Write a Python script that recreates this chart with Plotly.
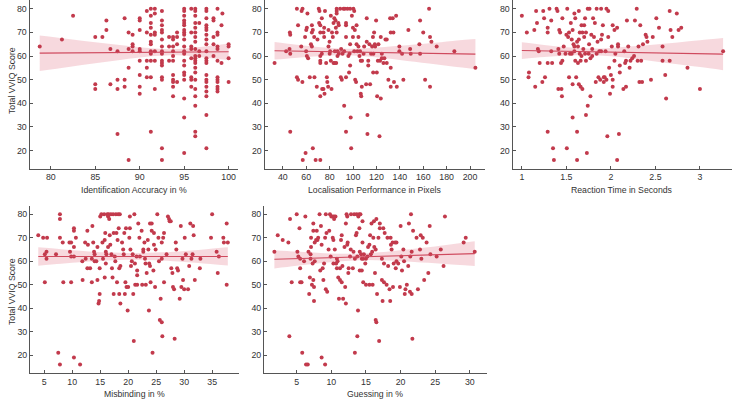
import numpy as np
import plotly.graph_objects as go

# ---------------- data ----------------
ident_x = [78.75, 81.25, 82.5,
           85, 85, 85, 85.8, 86.25, 86.25, 86.7, 86.7,
           87.5, 87.5, 87.5, 87.5, 88.3, 88.3, 88.3,
           88.75, 88.75, 88.75, 88.75, 89.2, 89.2, 89.2, 89.2,
           90, 90, 90, 90, 90, 90, 90, 90, 90,
           90.8, 90.8, 90.8, 90.8, 90.8,
           91.25, 91.25, 91.25, 91.25, 91.25, 91.25, 91.25, 91.25, 91.25, 91.25, 91.25, 91.25,
           91.7, 91.7, 91.7, 91.7, 91.7, 91.7, 91.7,
           92.5, 92.5, 92.5, 92.5, 92.5, 92.5, 92.5, 92.5, 92.5, 92.5, 92.5, 92.5, 92.5, 92.5, 92.5, 92.5,
           93.3, 93.3, 93.3,
           93.75, 93.75, 93.75, 93.75, 93.75, 93.75, 93.75, 93.75, 93.75, 93.75, 93.75,
           94.2, 94.2, 94.2, 94.2,
           95, 95, 95, 95, 95, 95, 95, 95, 95, 95, 95, 95, 95, 95, 95, 95, 95, 95, 95, 95, 95,
           95.8, 95.8, 95.8, 95.8, 95.8, 95.8, 95.8, 95.8,
           96.25, 96.25, 96.25, 96.25, 96.25, 96.25, 96.25, 96.25, 96.25, 96.25, 96.25, 96.25, 96.25, 96.25,
           96.25, 96.25, 96.25, 96.25, 96.25, 96.25, 96.25,
           96.7, 96.7, 96.7,
           97.5, 97.5, 97.5, 97.5, 97.5, 97.5, 97.5, 97.5, 97.5, 97.5, 97.5, 97.5, 97.5, 97.5, 97.5, 97.5,
           97.5, 97.5, 97.5, 97.5, 97.5,
           98.3, 98.3, 98.3, 98.3, 98.3,
           98.75, 98.75, 98.75, 98.75, 98.75, 98.75, 98.75, 98.75, 98.75, 98.75, 98.75, 98.75,
           99.2, 99.2, 99.3,
           100, 100, 100, 100]
ident_y = [64, 67, 77,
           68, 48, 46, 68, 75, 71, 63, 48,
           62, 50, 46, 27, 76, 50, 47,
           70, 63, 55, 16, 69, 65, 64, 62,
           76, 75, 71, 63, 62, 58, 52, 47, 44,
           79, 70, 58, 55, 51,
           80, 77, 74, 72, 69, 66, 65, 62, 61, 58, 51, 28,
           80, 78, 70, 69, 62, 58, 46,
           79, 75, 73, 71, 70, 67, 64, 62, 61, 58, 57, 56, 51, 50, 21, 16,
           68, 64, 58,
           68, 67, 64, 62, 60, 58, 52, 50, 49, 47, 43,
           70, 68, 65, 49,
           80, 79, 77, 75, 74, 73, 71, 70, 69, 67, 64, 62, 61, 58, 56, 53, 52, 50, 42, 34, 19,
           80, 70, 64, 63, 59, 51, 50, 47,
           80, 79, 77, 74, 72, 70, 68, 66, 63, 60, 59, 58, 57, 55,
           53, 50, 46, 43, 39, 28, 26,
           74, 62, 60,
           80, 79, 76, 73, 72, 71, 69, 67, 65, 62, 59, 58, 57, 52, 50, 49,
           47, 45, 43, 35, 21,
           76, 75, 68, 65, 60,
           80, 70, 69, 64, 63, 58, 51, 50, 49, 47, 46, 45,
           73, 57, 78,
           65, 64, 59, 49]

local_x = [32.9, 42.8, 45.7, 46.3, 46, 46.3, 46.3, 52, 53, 52, 53, 56, 56.8, 55.7, 56.7, 57, 59.4,
           59, 60, 60.5, 61, 59.9, 60.5, 61.6, 63, 65.6, 64.8, 64.8, 64, 64.8, 65.6, 66.8, 67, 68, 69,
           69.6, 70.7, 71.3, 71, 72, 72, 72, 72, 72, 72, 72, 73.3, 73.3, 73.6, 74.7, 74.7, 75.3, 75.3,
           75.6, 76, 77, 77.6, 78, 78.7, 79, 79, 79.9, 80, 80.4, 81, 81, 81.6, 82, 82.7, 83.3, 83.3,
           84, 84.4, 84.4, 85, 85.3, 85.6, 86, 86, 86, 86, 86.7, 86.7, 87.4, 87.8, 87.8, 89, 89.5, 89.8,
           90.4, 91, 91.8, 92.4, 92.4, 93, 94, 94, 94, 94, 94, 95.2, 96, 96.6, 97, 97.5, 97.5, 97.5,
           98, 98.4, 99, 99.9, 99.9, 100.3, 101, 101, 101.5, 101.8, 102.6, 103, 103, 103.7, 104.6,
           104.6, 105.5, 106, 106.6, 107.5, 106.6, 107, 107.7, 109, 109.5, 111.2, 111.7, 111.7, 112.3,
           112.3, 113, 113, 114, 114.6, 115.4, 116.3, 117, 117.2, 117.4, 118, 118.6, 118.9, 119.7,
           120.3, 120.6, 121.2, 121.7, 122.6, 123.1, 123.7, 123.7, 124.6, 124.6, 126, 126.8, 127.7,
           128.8, 128.8, 130.2, 131.7, 132.2, 132.2, 132.2, 133.9, 134.5, 135, 136.8, 137.4, 139.6,
           139.6, 141.9, 143, 147.3, 148.8, 149.3, 156.7, 157.3, 157.3, 160, 161.6, 165, 165.8, 165.8,
           167, 171.5, 186.6, 204.6]
local_y = [57, 62, 63, 61, 70, 69, 28, 80, 73, 51, 50, 79, 80, 64, 49, 16, 19,
           68, 71, 72, 78, 62, 60, 59, 51, 21, 73, 70, 65, 64, 71, 68, 51, 16, 47,
           67, 80, 79, 74, 73, 70, 60, 58, 57, 43, 16, 76, 61, 46, 46, 70, 68, 72,
           44, 79, 57, 51, 49, 47, 71, 64, 66, 61, 62, 77, 58, 46, 70, 68, 57, 74,
           76, 62, 57, 75, 72, 57, 80, 79, 78, 70, 62, 60, 74, 61, 73, 80, 51, 63,
           50, 61, 80, 62, 39, 80, 74, 73, 68, 51, 28, 80, 60, 53, 61, 80, 65, 56,
           34, 21, 77, 72, 68, 80, 79, 62, 71, 50, 49, 73, 65, 62, 68,
           64, 60, 62, 58, 47, 44, 43, 58, 61, 64, 48, 76, 66, 35,
           27, 58, 56, 65, 48, 61, 64, 68, 53, 61, 70, 65, 64, 75,
           53, 43, 58, 65, 26, 58, 68, 42, 61, 59, 57, 59, 67,
           67, 57, 50, 76, 70, 55, 47, 76, 70, 49, 77, 47, 64,
           62, 61, 50, 71, 63, 61, 65, 75, 61, 70, 50, 80, 68, 47,
           66, 64, 62, 55]

react_x = [1.0, 1.056, 1.08, 1.075, 1.14, 1.15, 1.16, 1.17, 1.18, 1.19, 1.2, 1.23, 1.24, 1.25, 1.26,
           1.29, 1.29, 1.29, 1.29, 1.31, 1.33, 1.33, 1.34, 1.35, 1.36, 1.39, 1.4, 1.41, 1.41, 1.42,
           1.42, 1.43, 1.44, 1.445, 1.45, 1.455, 1.455, 1.47, 1.49, 1.5, 1.505, 1.51, 1.52, 1.53, 1.53,
           1.54, 1.55, 1.56, 1.56, 1.57, 1.57, 1.57, 1.58, 1.59, 1.59, 1.59, 1.6, 1.6, 1.61, 1.62,
           1.62, 1.62, 1.63, 1.63, 1.64, 1.64, 1.64, 1.65, 1.65, 1.66, 1.66, 1.67, 1.67, 1.68, 1.68,
           1.69, 1.7, 1.7, 1.71, 1.71, 1.72, 1.72, 1.72, 1.73, 1.74, 1.74, 1.75, 1.755, 1.76, 1.77,
           1.77, 1.78, 1.79, 1.79, 1.8, 1.81, 1.82, 1.83, 1.84, 1.84, 1.85, 1.86, 1.87, 1.88, 1.89,
           1.89, 1.89, 1.9, 1.91, 1.92, 1.92, 1.93, 1.94, 1.95, 1.95, 1.96, 1.97, 1.97, 1.98, 1.99,
           2.0, 2.01, 2.02, 2.02, 2.02, 2.04, 2.04, 2.05, 2.07, 2.07, 2.08, 2.08, 2.09, 2.1, 2.1,
           2.14, 2.15, 2.16, 2.17, 2.17, 2.18, 2.195, 2.21, 2.22, 2.24, 2.26, 2.27, 2.29, 2.3, 2.31,
           2.32, 2.33, 2.34, 2.35, 2.36, 2.39, 2.4, 2.41, 2.45, 2.47, 2.51, 2.54, 2.58, 2.58, 2.61,
           2.62, 2.66, 2.66, 2.67, 2.69, 2.74, 2.76, 2.79, 2.86, 3.0, 3.26]
react_y = [77, 70, 53, 51, 71, 47, 79, 74, 63, 62, 57, 49, 79, 76, 51,
           72, 70, 57, 28, 80, 75, 62, 57, 21, 16, 80, 79, 63, 46, 71,
           61, 70, 57, 46, 43, 58, 76, 64, 61, 69, 21, 80, 68, 70, 51,
           61, 74, 61, 67, 48, 34, 71, 65, 78, 64, 62, 76, 58, 51, 66,
           28, 16, 64, 57, 48, 79, 67, 70, 61, 58, 47, 73, 60, 70, 46,
           63, 73, 68, 61, 76, 70, 58, 35, 19, 80, 39, 61, 65, 80, 59,
           43, 69, 63, 60, 76, 68, 74, 49, 61, 80, 66, 51, 62, 50, 67,
           62, 80, 69, 73, 49, 51, 51, 62, 80, 50, 26, 79, 68, 55, 44,
           52, 64, 73, 47, 50, 71, 58, 61, 16, 72, 64, 65, 27, 56, 53,
           46, 62, 57, 47, 58, 75, 64, 55, 58, 59, 60, 75, 80, 58, 64,
           49, 73, 58, 49, 65, 69, 68, 66, 50, 68, 76, 72, 64, 58, 52,
           42, 79, 58, 71, 68, 78, 71, 72, 55, 46, 62]

misb_x = [3.93, 4.8, 5.5, 5.1, 5.4, 5.4, 5.1, 7.1, 7.5, 7.8, 7.8, 7.8, 7.8, 8.3, 8.4,
          9.5, 9.8, 9.6, 9.8, 9.8, 10.3, 10.3, 10.3, 10.3, 10.3, 10.65, 11.4, 11.8, 11.85,
          12.3, 12.4, 12.7, 12.8, 12.7, 13.2, 13.5, 13.5, 13.6, 13.75, 13.9, 14, 14, 14.3, 14.5,
          14.5, 14.7, 14.8, 14.9, 14.9, 15, 15.2, 15.4, 15.5, 15.7, 15.8, 15.8, 15.9, 16, 16, 16.1,
          16.25, 16.4, 16.4, 16.5, 16.6, 16.7, 16.8, 16.9, 17, 17.1, 17.2, 17.3, 17.4, 17.4, 17.6,
          17.7, 17.8, 17.9, 18, 18.1, 18.2, 18.3, 18.4, 18.4, 18.5, 18.6, 18.6, 18.9, 19.1, 19.2,
          19.3, 19.4, 19.5, 19.6, 19.7, 19.9, 20, 20.2, 20.3, 20.3, 20.4, 20.5, 20.65, 20.8, 20.9,
          21, 21.1, 21.2, 21.25, 21.5, 21.6, 21.6, 21.6, 21.8, 22, 22.1, 22.4, 22.5, 22.7, 22.7,
          22.9, 23, 23.1, 23.15, 23.3, 23.5, 23.6, 23.7, 23.75, 23.9, 23.9, 24, 24.2, 24.2, 24.35,
          24.5, 24.6, 24.6, 24.8, 24.9, 25.2, 25.4, 25.5, 25.65, 25.8, 26, 26, 26, 26.1, 26.25,
          26.4, 26.4, 26.85, 27.1, 27.3, 27.4, 27.6, 27.7, 27.9, 28, 28.2, 28.3, 28.5, 28.6, 28.75,
          28.9, 29.2, 29.4, 29.5, 29.7, 29.8, 30, 30.1, 30.3, 30.7, 30.9, 31.1, 31.3, 31.5, 31.6,
          31.7, 31.9, 32.8, 32.9, 35, 34.8, 35.8, 36, 36.2, 37, 37.1, 37.6, 37.6, 37.8]
misb_y = [71, 70, 70, 63, 61, 64, 51, 63, 21, 80, 78, 16, 70, 68, 51,
          68, 68, 64, 62, 51, 74, 73, 66, 62, 19, 70, 16, 60, 52,
          68, 61, 73, 67, 57, 57, 61, 51, 75, 68, 64, 63, 60, 60, 52,
          66, 42, 43, 46, 57, 79, 80, 68, 61, 80, 69, 53, 72, 64, 59, 63,
          80, 79, 66, 80, 78, 71, 67, 80, 63, 57, 53, 80, 46, 72, 62,
          60, 80, 72, 51, 69, 80, 74, 57, 46, 80, 42, 58, 68, 65, 63,
          72, 46, 51, 74, 49, 39, 49, 70, 79, 74, 65, 58, 60, 63, 46,
          26, 80, 59, 50, 62, 56, 54, 50, 76, 70, 62, 73, 50, 65, 64,
          68, 61, 59, 50, 55, 69, 65, 39, 59, 76, 58, 51, 76, 73, 21,
          56, 72, 67, 49, 65, 80, 70, 60, 35, 44, 34, 61, 68, 28, 70,
          51, 72, 63, 79, 78, 77, 77, 57, 55, 49, 48, 27, 68, 65, 57,
          56, 44, 75, 49, 61, 52, 48, 70, 63, 48, 58, 76, 61, 63, 75,
          71, 52, 57, 61, 80, 70, 64, 55, 62, 70, 68, 76, 50, 68]

guess_x = [1.78, 2.26, 2.98, 3.8, 3.94, 4.04, 4.28, 5, 5.1, 5.24, 5.4, 5.5, 5.5, 5.5, 5.7, 5.8,
           6.06, 6.25, 6.35, 6.6, 6.7, 6.8, 6.9, 7, 7, 7.07, 7.07, 7.2, 7.3, 7.4, 7.4, 7.4, 7.5,
           7.5, 7.6, 7.6, 7.8, 7.9, 8, 8.1, 8.3, 8.4, 8.5, 8.6, 8.6, 8.75, 8.85, 8.95, 9.1, 9.1,
           9.2, 9.2, 9.3, 9.4, 9.6, 9.7, 9.8, 9.9, 10, 10.2, 10.2, 10.3, 10.3, 10.4, 10.4, 10.5,
           10.6, 10.7, 10.8, 10.8, 10.9, 11, 11.1, 11.25, 11.25, 11.4, 11.5, 11.5, 11.6, 11.7,
           11.9, 12, 12.1, 12.1, 12.2, 12.3, 12.3, 12.36, 12.45, 12.5, 12.7, 12.8, 12.84, 13.1,
           13.2, 13.3, 13.4, 13.4, 13.55, 13.65, 13.65, 13.75, 13.75, 13.85, 13.9, 14, 14.05, 14.1,
           14.1, 14.2, 14.3, 14.4, 14.4, 14.5, 14.5, 14.6, 14.6, 14.7, 14.9, 15, 15, 15.2, 15.3,
           15.5, 15.5, 15.6, 15.7, 15.8, 15.9, 15.96, 16.06, 16.15, 16.2, 16.3, 16.4, 16.5, 16.4,
           16.5, 16.6, 16.8, 16.9, 17, 17, 17.3, 17.3, 17.4, 17.5, 17.6, 17.6, 17.7, 17.98, 18.1,
           18.2, 18.4, 18.5, 18.56, 18.6, 18.7, 18.85, 18.9, 19, 19.2, 19.3, 19.4, 19.4, 19.66,
           19.9, 20, 20.1, 20.2, 20.4, 20.5, 20.6, 20.7, 20.9, 21.1, 21.2, 21.35, 21.4, 21.5, 21.6,
           21.6, 21.7, 21.8, 22.3, 22.5, 22.8, 22.9, 23, 23.2, 23.4, 23.75, 24, 24.2, 24.3, 25.2,
           25.8, 26.2, 26.4, 29.1, 29.4, 30.7]
guess_y = [64, 71, 69, 68, 28, 78, 51, 80, 64, 62, 74, 61, 57, 51, 51, 21,
           60, 79, 16, 16, 64, 46, 53, 63, 61, 66, 70, 50, 59, 52, 76, 73, 49,
           43, 68, 60, 69, 73, 69, 70, 80, 56, 75, 67, 19, 57, 52, 59, 70, 16,
           80, 48, 72, 47, 65, 73, 80, 62, 79, 79, 70, 69, 59, 79, 78, 65,
           79, 59, 57, 61, 60, 53, 44, 57, 52, 69, 51, 71, 58, 44,
           66, 49, 42, 76, 80, 79, 67, 68, 55, 57, 62, 65, 80, 57,
           64, 80, 21, 61, 71, 72, 80, 62, 28, 39, 79, 80, 74, 56,
           64, 80, 63, 56, 61, 77, 68, 51, 61, 63, 59, 61, 50, 62, 66,
           67, 50, 71, 63, 76, 64, 50, 70, 77, 66, 55, 35, 34, 65,
           78, 46, 70, 26, 76, 74, 52, 61, 43, 74, 51, 59, 72, 50, 70,
           58, 48, 43, 70, 67, 65, 68, 49, 59, 68, 57, 68, 60, 59,
           49, 75, 62, 56, 65, 60, 46, 48, 50, 58, 76, 47, 62, 80, 64,
           46, 27, 73, 70, 48, 65, 71, 61, 70, 52, 68, 55, 75, 63, 62,
           65, 58, 79, 68, 70, 64]

# fitted regression lines (end points)
ident_fit_x = [78.75, 100]
ident_fit_y = [61.2, 61.8]
local_fit_x = [32.9, 204.6]
local_fit_y = [62.2, 60.8]
react_fit_x = [1.0, 3.26]
react_fit_y = [62.3, 60.8]
misb_fit_x = [3.93, 37.8]
misb_fit_y = [62.0, 62.0]
guess_fit_x = [1.78, 30.7]
guess_fit_y = [60.8, 63.2]

# 95% confidence bands
ident_band_x = [78.75, 82, 85, 88, 91, 93.5, 96, 98, 100]
ident_band_hi = [68.7, 67.2, 65.8, 64.5, 63.35, 62.9, 63.5, 64.3, 65.3]
ident_band_lo = [53.7, 55.4, 56.9, 58.4, 59.75, 60.3, 59.9, 59.1, 58.3]
local_band_x = [32.9, 50, 70, 93.5, 115, 140, 165, 185, 204.6]
local_band_hi = [65.9, 64.9, 63.85, 63.1, 63.4, 64.3, 65.4, 66.4, 67.15]
local_band_lo = [58.5, 59.2, 59.95, 60.3, 59.65, 58.35, 56.8, 55.55, 54.45]
react_band_x = [1.0, 1.25, 1.5, 1.744, 2.0, 2.25, 2.5, 2.75, 3.0, 3.26]
react_band_hi = [65.84, 64.7, 63.73, 63.21, 63.43, 64.09, 64.89, 65.75, 66.63, 67.58]
react_band_lo = [58.76, 59.56, 60.21, 60.41, 59.85, 58.85, 57.71, 56.53, 55.31, 54.0]
misb_band_x = [3.93, 8, 12, 16, 21, 26, 30, 34, 37.8]
misb_band_hi = [65.9, 65.12, 64.38, 63.76, 63.4, 63.76, 64.38, 65.12, 65.89]
misb_band_lo = [58.1, 58.88, 59.62, 60.24, 60.6, 60.24, 59.62, 58.88, 58.11]
guess_band_x = [1.78, 5, 9, 13.87, 18, 22, 26, 30.7]
guess_band_hi = [64.67, 64.07, 63.42, 63.2, 64.01, 65.28, 66.7, 68.46]
guess_band_lo = [56.93, 58.07, 59.38, 60.4, 60.27, 59.68, 58.92, 57.96]

x_titles = ["Identification Accuracy in %", "Localisation Performance in Pixels",
            "Reaction Time in Seconds", "Misbinding in %", "Guessing in %"]
y_title = "Total VVIQ Score"
x_tickvals = [[80, 85, 90, 95, 100],
              [40, 60, 80, 100, 120, 140, 160, 180, 200],
              [1, 1.5, 2, 2.5, 3],
              [5, 10, 15, 20, 25, 30, 35],
              [5, 10, 15, 20, 25, 30]]
y_tickvals = [20, 30, 40, 50, 60, 70, 80]

# ---------------- styling / layout ----------------
W, H = 734, 406
x_ranges = [[77.6, 101.0], [24.3, 212.8], [0.895, 3.36], [2.45, 39.8], [0.28, 32.4]]
y_range = [12.4, 83.7]
# pixel boxes (left, right, top, bottom)
boxes = [(29.5, 237.5, 0, 168.5), (264.5, 485, 0, 168.5), (512.5, 732, 0, 168.5),
         (30, 239, 205.5, 373), (264, 486.5, 205.5, 373)]
xtitle_py = [190, 190, 190, 393.5, 393.5]
ytitle_px = 12
ytitle_py = {1: 81, 4: 292}

RED = "#c23a4c"
LINE = "#cf4a5e"
BAND = "rgba(226, 120, 138, 0.28)"
AX = "#555555"
TXT = "#333333"
FONT = "Liberation Sans, Arial, sans-serif"

panels = [
    (ident_x, ident_y, ident_fit_x, ident_fit_y, ident_band_x, ident_band_lo, ident_band_hi),
    (local_x, local_y, local_fit_x, local_fit_y, local_band_x, local_band_lo, local_band_hi),
    (react_x, react_y, react_fit_x, react_fit_y, react_band_x, react_band_lo, react_band_hi),
    (misb_x, misb_y, misb_fit_x, misb_fit_y, misb_band_x, misb_band_lo, misb_band_hi),
    (guess_x, guess_y, guess_fit_x, guess_fit_y, guess_band_x, guess_band_lo, guess_band_hi),
]

fig = go.Figure()
layout = dict(width=W, height=H, margin=dict(l=0, r=0, t=0, b=0),
              paper_bgcolor="white", plot_bgcolor="white", showlegend=False,
              font=dict(family=FONT, color=TXT, size=9))
annotations = []

for i, (xs, ys, fx, fy, bx, blo, bhi) in enumerate(panels):
    n = i + 1
    xa = "x" if n == 1 else f"x{n}"
    ya = "y" if n == 1 else f"y{n}"
    fig.add_trace(go.Scatter(x=bx, y=blo, mode="lines", line=dict(width=0, shape="spline"),
                             hoverinfo="skip", xaxis=xa, yaxis=ya))
    fig.add_trace(go.Scatter(x=bx, y=bhi, mode="lines", line=dict(width=0, shape="spline"),
                             fill="tonexty", fillcolor=BAND, hoverinfo="skip",
                             xaxis=xa, yaxis=ya))
    fig.add_trace(go.Scatter(x=xs, y=ys, mode="markers",
                             marker=dict(color=RED, size=4, line=dict(width=0)),
                             xaxis=xa, yaxis=ya))
    fig.add_trace(go.Scatter(x=fx, y=fy, mode="lines", line=dict(color=LINE, width=1.1),
                             xaxis=xa, yaxis=ya))

    l, r, t, b = boxes[i]
    xkey = "xaxis" if n == 1 else f"xaxis{n}"
    ykey = "yaxis" if n == 1 else f"yaxis{n}"
    common = dict(showgrid=False, zeroline=False, showline=True, linecolor=AX, linewidth=1,
                  ticks="inside", ticklen=3, tickcolor=AX, tickwidth=1,
                  tickfont=dict(family=FONT, size=8.8, color=TXT))
    layout[xkey] = dict(domain=[l / W, r / W], anchor=ya, range=x_ranges[i],
                        tickvals=x_tickvals[i], **common)
    layout[ykey] = dict(domain=[1 - b / H, 1 - t / H], anchor=xa, range=y_range,
                        tickvals=y_tickvals, **common)
    annotations.append(dict(text=x_titles[i], xref="paper", yref="paper",
                            x=(l + r) / 2 / W, y=1 - xtitle_py[i] / H,
                            xanchor="center", yanchor="middle", showarrow=False,
                            font=dict(family=FONT, size=8.7, color=TXT)))
    if n in ytitle_py:
        annotations.append(dict(text=y_title, xref="paper", yref="paper",
                                x=ytitle_px / W, y=1 - ytitle_py[n] / H, textangle=-90,
                                xanchor="center", yanchor="middle", showarrow=False,
                                font=dict(family=FONT, size=8.7, color=TXT)))

layout["annotations"] = annotations
fig.update_layout(**layout)
fig.write_html("out.html", config={"displayModeBar": False},
               post_script="document.body.style.margin='0';document.body.style.padding='0';"
                           "document.body.style.overflow='hidden';")
